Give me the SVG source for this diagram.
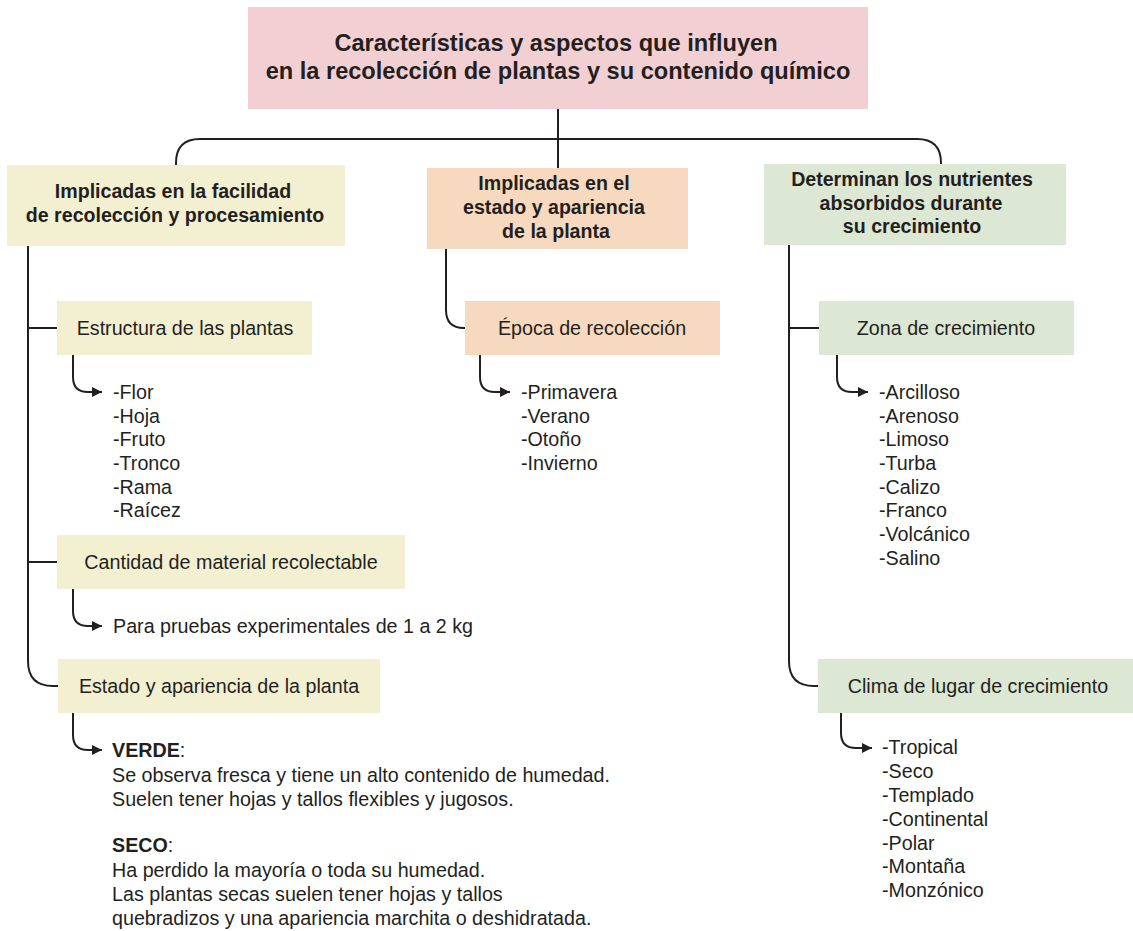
<svg xmlns="http://www.w3.org/2000/svg" width="1133" height="931" viewBox="0 0 1133 931">
  <style>
    .t { font-family: "Liberation Sans", Arial, sans-serif; fill: #231f20; }
    .title { font-size: 23.6px; font-weight: bold; }
    .head { font-size: 19.6px; font-weight: bold; }
    .sub { font-size: 19.7px; }
    .item { font-size: 19.7px; }
    .conn { fill: none; stroke: #231f20; stroke-width: 2; }
    .pink { fill: #f2cfd3; }
    .cream { fill: #f3efd1; }
    .peach { fill: #f7d9bf; }
    .green { fill: #dce8d3; }
  </style>
  <defs>
    <marker id="arrow" markerWidth="10" markerHeight="10" refX="10" refY="5" orient="auto" markerUnits="userSpaceOnUse">
      <path d="M0,0 L10,5 L0,10 Z" fill="#231f20"/>
    </marker>
  </defs>

  <rect width="1133" height="931" fill="#ffffff"/>

  <!-- connectors -->
  <g id="connectors">
    <path class="conn" d="M176,166 V163 Q176,139 200,139 H917 Q941,139 941,163 V165"/>
    <path class="conn" d="M558,109 V168"/>
    <!-- left column -->
    <path class="conn" d="M28,246 V661 Q28,686 53,686 H58"/>
    <path class="conn" d="M28,328 H57"/>
    <path class="conn" d="M28,562 H57"/>
    <path class="conn" d="M73,355 V377 Q73,392 88,392 H102" marker-end="url(#arrow)"/>
    <path class="conn" d="M73,589 V611 Q73,626 88,626 H102" marker-end="url(#arrow)"/>
    <path class="conn" d="M73,713 V735 Q73,750 88,750 H102" marker-end="url(#arrow)"/>
    <!-- middle column -->
    <path class="conn" d="M446,249 V310 Q446,328 464,328 H465"/>
    <path class="conn" d="M480,355 V377 Q480,392 495,392 H510" marker-end="url(#arrow)"/>
    <!-- right column -->
    <path class="conn" d="M789,245 V661 Q789,686 814,686 H819"/>
    <path class="conn" d="M789,328 H819"/>
    <path class="conn" d="M837,355 V377 Q837,392 852,392 H868" marker-end="url(#arrow)"/>
    <path class="conn" d="M841,713 V733 Q841,748 856,748 H872" marker-end="url(#arrow)"/>
  </g>

  <!-- root -->
  <g id="root">
    <rect class="pink" x="248" y="7" width="620" height="102"/>
    <text class="t title" text-anchor="middle" x="556" y="51">Características y aspectos que influyen</text>
    <text class="t title" text-anchor="middle" x="558" y="79">en la recolección de plantas y su contenido químico</text>
  </g>

  <!-- category: ease of collection -->
  <g id="facilidad">
    <rect class="cream" x="7" y="165" width="338" height="81"/>
    <text class="t head" text-anchor="middle" x="173" y="198">Implicadas en la facilidad</text>
    <text class="t head" text-anchor="middle" x="175" y="222">de recolección y procesamiento</text>
  </g>

  <g id="estado">
    <rect class="peach" x="427" y="168" width="261" height="81"/>
    <text class="t head" text-anchor="middle" x="554" y="190">Implicadas en el</text>
    <text class="t head" text-anchor="middle" x="554" y="214">estado y apariencia</text>
    <text class="t head" text-anchor="middle" x="556" y="238">de la planta</text>
  </g>

  <g id="nutrientes">
    <rect class="green" x="764" y="164" width="302" height="81"/>
    <text class="t head" text-anchor="middle" x="912" y="186">Determinan los nutrientes</text>
    <text class="t head" text-anchor="middle" x="911" y="210">absorbidos durante</text>
    <text class="t head" text-anchor="middle" x="912" y="233">su crecimiento</text>
  </g>

  <!-- left sub-nodes -->
  <g id="estructura">
    <rect class="cream" x="57" y="301" width="255" height="54"/>
    <text class="t sub" text-anchor="middle" x="185" y="335">Estructura de las plantas</text>
  </g>
  <g id="estructura-items">
    <text class="t item" x="113" y="399">-Flor</text>
    <text class="t item" x="113" y="423">-Hoja</text>
    <text class="t item" x="113" y="446">-Fruto</text>
    <text class="t item" x="113" y="470">-Tronco</text>
    <text class="t item" x="113" y="494">-Rama</text>
    <text class="t item" x="113" y="517">-Raícez</text>
  </g>

  <g id="cantidad">
    <rect class="cream" x="57" y="535" width="348" height="54"/>
    <text class="t sub" text-anchor="middle" x="231" y="569">Cantidad de material recolectable</text>
  </g>
  <g id="cantidad-items">
    <text class="t item" x="113" y="633">Para pruebas experimentales de 1 a 2 kg</text>
  </g>

  <g id="apariencia">
    <rect class="cream" x="58" y="659" width="322" height="54"/>
    <text class="t sub" text-anchor="middle" x="219" y="693">Estado y apariencia de la planta</text>
  </g>
  <g id="apariencia-items">
    <text class="t item" x="112" y="757"><tspan font-weight="bold">VERDE</tspan>:</text>
    <text class="t item" x="112" y="782">Se observa fresca y tiene un alto contenido de humedad.</text>
    <text class="t item" x="112" y="806">Suelen tener hojas y tallos flexibles y jugosos.</text>
    <text class="t item" x="112" y="852"><tspan font-weight="bold">SECO</tspan>:</text>
    <text class="t item" x="112" y="877">Ha perdido la mayoría o toda su humedad.</text>
    <text class="t item" x="112" y="901">Las plantas secas suelen tener hojas y tallos</text>
    <text class="t item" x="112" y="925">quebradizos y una apariencia marchita o deshidratada.</text>
  </g>

  <!-- middle sub-node -->
  <g id="epoca">
    <rect class="peach" x="465" y="301" width="255" height="54"/>
    <text class="t sub" text-anchor="middle" x="592" y="335">Época de recolección</text>
  </g>
  <g id="epoca-items">
    <text class="t item" x="521" y="399">-Primavera</text>
    <text class="t item" x="521" y="423">-Verano</text>
    <text class="t item" x="521" y="446">-Otoño</text>
    <text class="t item" x="521" y="470">-Invierno</text>
  </g>

  <!-- right sub-nodes -->
  <g id="zona">
    <rect class="green" x="819" y="301" width="255" height="54"/>
    <text class="t sub" text-anchor="middle" x="946" y="335">Zona de crecimiento</text>
  </g>
  <g id="zona-items">
    <text class="t item" x="879" y="399">-Arcilloso</text>
    <text class="t item" x="879" y="423">-Arenoso</text>
    <text class="t item" x="879" y="446">-Limoso</text>
    <text class="t item" x="879" y="470">-Turba</text>
    <text class="t item" x="879" y="494">-Calizo</text>
    <text class="t item" x="879" y="517">-Franco</text>
    <text class="t item" x="879" y="541">-Volcánico</text>
    <text class="t item" x="879" y="565">-Salino</text>
  </g>

  <g id="clima">
    <rect class="green" x="818" y="659" width="315" height="54"/>
    <text class="t sub" text-anchor="middle" x="978" y="693">Clima de lugar de crecimiento</text>
  </g>
  <g id="clima-items">
    <text class="t item" x="882" y="754">-Tropical</text>
    <text class="t item" x="882" y="778">-Seco</text>
    <text class="t item" x="882" y="802">-Templado</text>
    <text class="t item" x="882" y="826">-Continental</text>
    <text class="t item" x="882" y="850">-Polar</text>
    <text class="t item" x="882" y="873">-Montaña</text>
    <text class="t item" x="882" y="897">-Monzónico</text>
  </g>
</svg>
